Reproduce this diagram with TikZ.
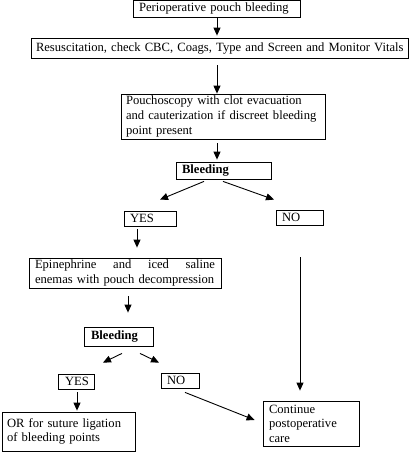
\documentclass[tikz,border=0pt]{standalone}
\usepackage{fontspec}
\setmainfont{Liberation Serif}
\usetikzlibrary{arrows.meta}
\newcommand{\fs}{\fontsize{12.6}{14.6}\selectfont}
\tikzset{
  bx/.style={draw, line width=0.8pt, inner ysep=0pt, align=left, font=\fs, anchor=center},
  arr/.style={line width=0.9pt, -{Triangle[length=8pt,width=7pt]}}
}
\begin{document}
\begin{tikzpicture}[x=1pt,y=-1pt]
\useasboundingbox (0,0) rectangle (416,452);
\node[bx, text width=155pt, inner xsep=6pt, minimum height=17pt] (b1) at (216.5,8.5) {\mbox{Perioperative pouch bleeding}};
\node[bx, text width=367pt, inner xsep=5pt, minimum height=20pt] (b2) at (219.5,48) {\mbox{Resuscitation, check CBC, Coags, Type and Screen and Monitor Vitals}};
\node[bx, text width=194pt, inner xsep=5pt, minimum height=45pt] (b3) at (223,116.5) {\mbox{Pouchoscopy with clot evacuation}\\\mbox{and cauterization if discreet bleeding}\\\mbox{point present}};
\node[bx, text width=83pt, inner xsep=6pt, minimum height=17pt] (bl1) at (223.5,170.5) {\textbf{Bleeding}};
\node[bx, text width=40pt, inner xsep=6pt, minimum height=15pt] (yes1) at (150,218.5) {YES};
\node[bx, text width=35pt, inner xsep=6pt, minimum height=15pt] (no1) at (299.5,217.5) {NO};
\node[bx, text width=180pt, inner xsep=6pt, minimum height=30pt] (epi) at (125,273) {\makebox[180pt][s]{Epinephrine\hfill and\hfill iced\hfill saline}\\\mbox{enemas with pouch decompression}};
\node[bx, text width=55pt, inner xsep=7pt, minimum height=19pt] (bl2) at (118.5,336.5) {\textbf{Bleeding}};
\node[bx, text width=22pt, inner xsep=7pt, minimum height=15pt] (yes2) at (76,381.5) {\mbox{YES}};
\node[bx, text width=26pt, inner xsep=6pt, minimum height=15pt] (no2) at (180,380.5) {NO};
\node[bx, text width=123pt, inner xsep=5pt, minimum height=39pt] (or) at (68.5,431.5) {\mbox{OR for suture ligation}\\\mbox{of bleeding points}};
\node[bx, text width=84pt, inner xsep=6pt, minimum height=45pt] (cont) at (311,423.5) {Continue\\\mbox{postoperative}\\care};

\draw[arr] ([xshift=0.5pt]b1.south) -- ([xshift=-2.5pt,yshift=2pt]b2.north);
\draw[arr] ([xshift=-2.5pt,yshift=-7pt]b2.south) -- ([xshift=-6pt]b3.north);
\draw[arr] ([xshift=-6pt,yshift=-4pt]b3.south) -- ([xshift=-6.5pt,yshift=2pt]bl1.north);
\draw[arr] ([xshift=-19.5pt,yshift=-2pt]bl1.south) -- ([xshift=10pt,yshift=11pt]yes1.north);
\draw[arr] ([xshift=-0.5pt,yshift=-2pt]bl1.south) -- ([xshift=-25.5pt,yshift=10pt]no1.north);
\draw[arr] ([xshift=-13pt,yshift=-3pt]yes1.south) -- ([xshift=12pt,yshift=10pt]epi.north);
\draw[arr] ([xshift=0.5pt,yshift=-32pt]no1.south) -- ([xshift=-11pt,yshift=10pt]cont.north);
\draw[arr] ([xshift=3pt,yshift=-8pt]epi.south) -- ([xshift=9.5pt,yshift=14pt]bl2.north);
\draw[arr] ([xshift=3.5pt,yshift=-7pt]bl2.south) -- ([xshift=27pt,yshift=11pt]yes2.north);
\draw[arr] ([xshift=21.5pt,yshift=-7pt]bl2.south) -- ([xshift=-21pt,yshift=10pt]no2.north);
\draw[arr] ([xshift=1pt,yshift=-3pt]yes2.south) -- ([xshift=8.5pt,yshift=1pt]or.north);
\draw[arr] ([xshift=5pt,yshift=-4pt]no2.south) -- ([xshift=-8pt,yshift=3.5pt]cont.west);
\end{tikzpicture}
\end{document}
